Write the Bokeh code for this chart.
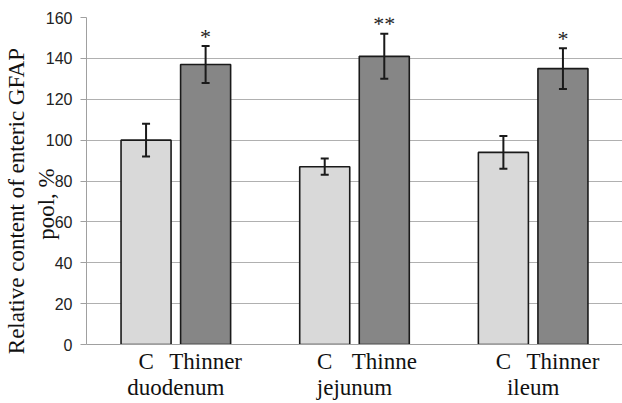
from bokeh.plotting import figure
from bokeh.models import ColumnDataSource, FactorRange, Whisker, TeeHead, FixedTicker
from bokeh.core.properties import value
from bokeh.embed import file_html
from bokeh.resources import INLINE

# ---- data ----
segments = ["duodenum", "jejunum", "ileum"]
control_labels = ["C", "C", "C"]
thinner_labels = ["Thinner", "Thinne", "Thinner"]
control = [100, 87, 94]
control_low = [92, 83, 86]
control_high = [108, 91, 102]
thinner = [137, 141, 135]
thinner_low = [128, 130, 125]
thinner_high = [146, 152, 145]
significance = ["*", "**", "*"]
y_ticks = [0, 20, 40, 60, 80, 100, 120, 140, 160]
y_title_lines = ["Relative content of enteric GFAP", "pool, %"]

c_x = list(zip(segments, control_labels))
t_x = list(zip(segments, thinner_labels))
factors = []
for a, b in zip(c_x, t_x):
    factors += [a, b]

src_c = ColumnDataSource(dict(x=c_x, top=control, lo=control_low, hi=control_high))
src_t = ColumnDataSource(dict(x=t_x, top=thinner, lo=thinner_low, hi=thinner_high,
                              sig=significance))

x_range = FactorRange(factors=factors, factor_padding=0.0, group_padding=1.0,
                      range_padding=0.5, range_padding_units="absolute")

p = figure(x_range=x_range, y_range=(0, 160), width=622, height=403,
           output_backend="svg", toolbar_location=None,
           min_border_left=86, min_border_right=0, min_border_top=17,
           min_border_bottom=59)
p.outline_line_color = None
p.background_fill_color = "white"
p.border_fill_color = "white"

bar_w = 0.84
p.vbar(x="x", top="top", width=bar_w, source=src_c, fill_color="#d9d9d9",
       line_color="#1a1a1a", line_width=1.6)
p.vbar(x="x", top="top", width=bar_w, source=src_t, fill_color="#868686",
       line_color="#1a1a1a", line_width=1.6)

for src in (src_c, src_t):
    w = Whisker(base="x", upper="hi", lower="lo", source=src, dimension="height",
                level="overlay", line_color="#1a1a1a", line_width=2,
                upper_head=TeeHead(size=8, line_color="#1a1a1a", line_width=2),
                lower_head=TeeHead(size=8, line_color="#1a1a1a", line_width=2))
    p.add_layout(w)

p.text(x="x", y="hi", text="sig", source=src_t, text_align="center",
       text_baseline="alphabetic", y_offset=-10, text_font=value("Liberation Serif"),
       text_font_size="22px", text_color="#222222")

# grid
p.xgrid.grid_line_color = None
p.ygrid.grid_line_color = "#b0b0b0"
p.ygrid.grid_line_width = 1.2
p.yaxis.ticker = FixedTicker(ticks=y_ticks)

# y axis
p.yaxis.axis_line_color = "#a0a0a0"
p.yaxis.major_tick_line_color = "#a0a0a0"
p.yaxis.major_tick_out = 6
p.yaxis.major_tick_in = 0
p.yaxis.minor_tick_line_color = None
p.yaxis.major_label_text_font = "Liberation Sans"
p.yaxis.major_label_text_font_size = "16px"
p.yaxis.major_label_text_color = "#222222"
p.yaxis.major_label_standoff = 8

# two-line title; non-breaking spaces shift each line down like the reference
NB = "\u00a0"
p.yaxis.axis_label = y_title_lines[0] + NB * 7 + "\n" + y_title_lines[1] + NB * 8
p.yaxis.axis_label_text_font = "Liberation Serif"
p.yaxis.axis_label_text_font_size = "23px"
p.yaxis.axis_label_text_font_style = "normal"
p.yaxis.axis_label_text_color = "#111111"
p.yaxis.axis_label_standoff = -16

# x axis
p.xaxis.axis_line_color = "#a0a0a0"
p.xaxis.major_tick_line_color = None
p.xaxis.minor_tick_line_color = None
p.xaxis.separator_line_alpha = 0
p.xaxis.major_label_standoff = -2
p.xaxis.major_label_text_font = "Liberation Serif"
p.xaxis.major_label_text_font_size = "23px"
p.xaxis.major_label_text_color = "#111111"
p.xaxis.group_text_font = "Liberation Serif"
p.xaxis.group_text_font_size = "23px"
p.xaxis.group_text_font_style = "normal"
p.xaxis.group_text_color = "#111111"

open("out.html", "w").write(file_html(p, INLINE))
